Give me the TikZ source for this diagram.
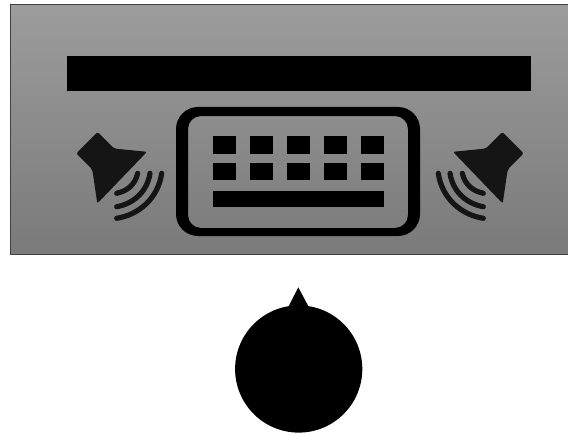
\documentclass[tikz,border=0pt]{standalone}
\definecolor{panelTop}{HTML}{9C9C9C}
\definecolor{panelBot}{HTML}{7A7A7A}
\definecolor{speakerGray}{HTML}{151515}
\begin{document}
\begin{tikzpicture}[x=1pt, y=-1pt]
    \useasboundingbox (0,0) rectangle (568,436);

    % panel
    \draw[draw=black!75, line width=1pt, top color=panelTop, bottom color=panelBot]
        (10,5) rectangle (580,254.5);

    % display bar
    \fill[black] (67,56) rectangle (531,91);

    % keyboard
    \fill[black, even odd rule, rounded corners=22pt] (176,107) rectangle (420,236)
        [rounded corners=13pt] (188,116) rectangle (408,228);
    \foreach \col in {0,...,4} {
        \foreach \rowy in {136,162.5} {
            \fill[black] ({212.7+37*\col},\rowy) rectangle ++(23.7,17.5);
        }
    }
    \fill[black] (212.7,190.7) rectangle (384,207.3);

    % speakers
    \foreach \sx/\off in {1/0,-1/600} {
        \begin{scope}[xshift=\off pt, xscale=\sx]
            \fill[speakerGray, rounded corners=2pt]
                (76.3,153.3) -- (97.7,132) -- (114,148.5) -- (147,151.8)
                -- (97.3,203.5) -- (92.3,169.5) -- cycle;
            \draw[speakerGray, line width=5.2pt, line cap=round]
                (137.7,173.3) .. controls (135,185) and (127,191) .. (116.7,193.3);
            \draw[speakerGray, line width=5.2pt, line cap=round]
                (150,173.3) .. controls (147,193) and (132,204) .. (116.7,206.7);
            \draw[speakerGray, line width=5.2pt, line cap=round]
                (161.7,173.3) .. controls (158,199) and (138,215) .. (116.7,218.3);
        \end{scope}
    }

    % knob
    \fill[black] (298.7,369) circle (63.6pt);
    \fill[black] (298.3,287.3) -- (309,307.5) -- (288,307.5) -- cycle;
\end{tikzpicture}
\end{document}
